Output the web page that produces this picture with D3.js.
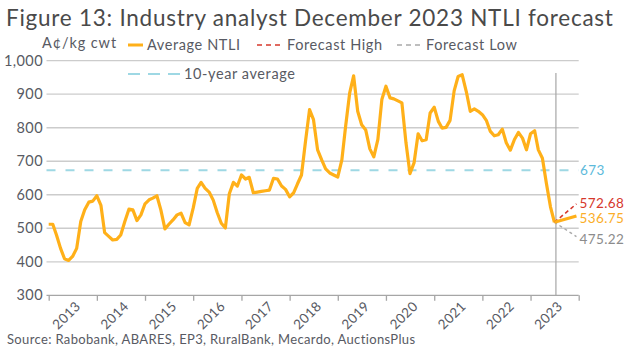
<!DOCTYPE html>
<html><head><meta charset="utf-8">
<script src="https://cdn.jsdelivr.net/npm/d3@7"></script>
<style>
html,body{margin:0;padding:0;background:#fff;}
svg{display:block;font-family:Lato,"Open Sans",sans-serif;}
</style></head>
<body>
<svg id="chart" width="627" height="356"></svg>
<script>
// ---- data ----
const startMonth = "2013-01-01";
const ntli = [512,512,480,440,409,404,416,440,520,555,
 578,581,597,568,487,476,465,467,480,520,
 557,555,523,540,573,585,590,597,555,498,
 512,525,540,545,517,510,560,619,637,619,
 608,584,547,515,501,603,637,626,659,647,
 652,606,608,610,612,614,649,647,626,616,
 594,606,632,659,758,854,824,734,704,677,
 665,659,653,704,803,903,955,849,809,793,
 737,713,765,884,924,889,886,880,874,755,
 663,695,782,761,764,844,861,819,799,801,
 822,910,953,958,908,849,856,849,839,821,
 790,776,779,796,755,733,765,786,769,734,
 782,791,734,709,634,564,518];
const forecastDates = ["2023-07-01","2023-12-15"];
const forecastHigh = [518, 572.68];
const forecastAvg = [518, 536.75];
const forecastLow = [518, 475.22];
const tenYearAvg = 673;
const years = [2013,2014,2015,2016,2017,2018,2019,2020,2021,2022,2023];
const yTicks = [300,400,500,600,700,800,900,1000];
const title = "Figure 13: Industry analyst December 2023 NTLI forecast";
const unitLabel = "A¢/kg cwt";
const source = "Source: Rabobank, ABARES, EP3, RuralBank, Mecardo, AuctionsPlus";

// ---- drawing ----
const svg = d3.select("#chart");
const parse = d3.timeParse("%Y-%m-%d");
const t0 = parse(startMonth);
const series = ntli.map((v,i)=>({date:d3.timeMonth.offset(t0,i), v}));
const fDates = forecastDates.map(parse);

const x = d3.scaleTime().domain([new Date(2013,0,1), new Date(2024,0,1)]).range([48.7, 578.7]);
const y = d3.scaleLinear().domain([300,1000]).range([295.3, 60.7]);

const ORANGE = "#FFB019", RED = "#D6382C", GREY = "#A9A9A9", BLUE = "#9ED8E4", TEXT = "#585A63";

// title
svg.append("text").attr("x",6).attr("y",26).attr("font-size",22.5).attr("fill","#4a4a4a")
  .attr("letter-spacing",0.75).text(title);

// gridlines
svg.append("g").selectAll("line").data(yTicks.filter(d=>d>300)).join("line")
  .attr("x1",46.5).attr("x2",578.7).attr("y1",d=>y(d)).attr("y2",d=>y(d))
  .attr("stroke","#cccccc").attr("stroke-width",1.3);

// y axis labels
const yAxis = d3.axisLeft(y).tickValues(yTicks).tickSize(0).tickPadding(4)
  .tickFormat(d3.format(","));
const gy = svg.append("g").attr("transform","translate(47,0)").call(yAxis);
gy.select(".domain").remove();
gy.selectAll("text").attr("font-size",14.5).attr("fill",TEXT).attr("font-family","Lato,sans-serif")
  .attr("letter-spacing",0.4);

// x axis
const xAxis = d3.axisBottom(x).tickValues(years.map(yr=>new Date(yr,0,1)).concat([new Date(2024,0,1)]))
  .tickSize(5.5).tickFormat("");
const gx = svg.append("g").attr("transform",`translate(0,${y(300)})`).call(xAxis);
gx.select(".domain").attr("stroke","#a6a6a6").attr("stroke-width",1.3).attr("d",`M46.5,0H578.7`);
gx.selectAll(".tick line").attr("stroke","#a6a6a6").attr("stroke-width",1.3);
svg.append("g").selectAll("text").data(years).join("text")
  .attr("transform",d=>`translate(${x(new Date(d,6,1))+2},${y(300)+5}) rotate(-45)`)
  .attr("text-anchor","end").attr("dy","0.71em").attr("font-size",13.5).attr("fill",TEXT)
  .attr("letter-spacing",0.4).text(d=>d);

// 10-year average
svg.append("line").attr("x1",46.5).attr("x2",578.7).attr("y1",y(tenYearAvg)).attr("y2",y(tenYearAvg))
  .attr("stroke",BLUE).attr("stroke-width",2).attr("stroke-dasharray","9,10");
svg.append("text").attr("x",580).attr("y",y(tenYearAvg)).attr("dy","0.35em").attr("font-size",13.5)
  .attr("letter-spacing",0.4).attr("fill","#5DBADB").text(tenYearAvg);

// vertical forecast marker
svg.append("line").attr("x1",x(fDates[0])+1.5).attr("x2",x(fDates[0])+1.5).attr("y1",73).attr("y2",y(300))
  .attr("stroke","#a6a6a6").attr("stroke-width",1.2);

// main line
const line = d3.line().x(d=>x(d.date)).y(d=>y(d.v));
svg.append("path").datum(series).attr("d",line).attr("fill","none")
  .attr("stroke",ORANGE).attr("stroke-width",3.2).attr("stroke-linejoin","round");

// forecasts
function fc(vals, color, dash, w){
  const pts = vals.map((v,i)=>({date:fDates[i], v}));
  svg.append("path").datum(pts).attr("d",line).attr("fill","none").attr("stroke",color)
    .attr("stroke-width",w).attr("stroke-dasharray",dash);
}
fc(forecastLow, GREY, "3,3", 1.4);
fc(forecastHigh, RED, "4,3", 1.6);
fc(forecastAvg, ORANGE, null, 3.2);
const lblX = 579.5;
[[forecastHigh,RED],[forecastAvg,"#FBAE28"],[forecastLow,"#8C8C8C"]].forEach(([vals,c],k)=>{
  const v = vals[1];
  let yy = y(v);
  if(k===0) yy -= 1; if(k===1) yy += 2; if(k===2) yy += 3;
  svg.append("text").attr("x",lblX).attr("y",yy).attr("dy","0.35em").attr("font-size",13.5).attr("fill",c)
    .attr("letter-spacing",0.4).text(d3.format(".2f")(v));
});

// legend
svg.append("text").attr("x",42).attr("y",48).attr("font-size",14.5).attr("fill",TEXT)
  .attr("letter-spacing",0.9).text(unitLabel);
const leg = [
  {x:128,y:45,w:15,c:ORANGE,dash:null,sw:3,label:"Average NTLI"},
  {x:257,y:45,w:26,c:RED,dash:"5,4",sw:1.6,label:"Forecast High"},
  {x:397,y:45,w:25,c:GREY,dash:"5,4",sw:1.6,label:"Forecast Low"},
  {x:128,y:74,w:52,c:BLUE,dash:"12,8",sw:2,label:"10-year average"}
];
const lg = svg.append("g").selectAll("g").data(leg).join("g");
lg.append("line").attr("x1",d=>d.x).attr("x2",d=>d.x+d.w).attr("y1",d=>d.y).attr("y2",d=>d.y)
  .attr("stroke",d=>d.c).attr("stroke-width",d=>d.sw).attr("stroke-dasharray",d=>d.dash);
lg.append("text").attr("x",d=>d.x+d.w+4).attr("y",d=>d.y+5).attr("font-size",14.5).attr("fill",TEXT)
  .attr("letter-spacing",0.6).text(d=>d.label);

// source
svg.append("text").attr("x",7).attr("y",344).attr("font-size",13).attr("fill",TEXT)
  .attr("letter-spacing",0.35).text(source);
</script>
</body></html>
